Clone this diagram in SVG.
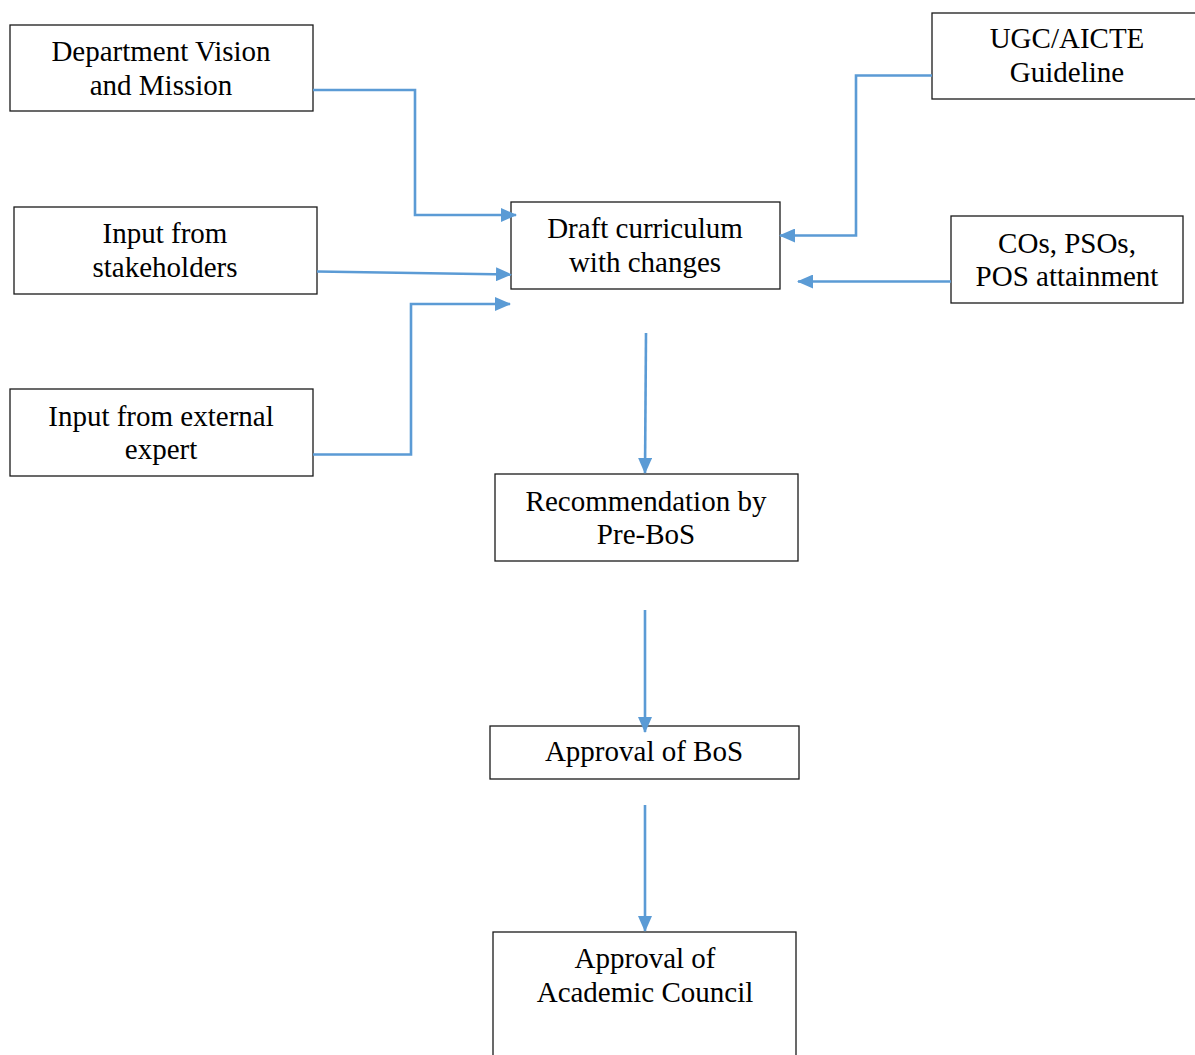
<svg xmlns="http://www.w3.org/2000/svg" width="1195" height="1055" viewBox="0 0 1195 1055">
<style>
.box{fill:#fff;stroke:#1a1a1a;stroke-width:1.3}
.t{font-family:"Liberation Serif","Times New Roman",serif;font-size:29px;fill:#000;text-anchor:middle}
.c{fill:none;stroke:#5B9BD5;stroke-width:2.6;marker-end:url(#ah)}
</style>
<defs>
<marker id="ah" markerUnits="userSpaceOnUse" markerWidth="16" markerHeight="14" refX="15" refY="7" orient="auto">
<path d="M0,0 L16,7 L0,14 z" fill="#5B9BD5"/>
</marker>
</defs>
<rect width="1195" height="1055" fill="#fff"/>
<g id="n-dept"><rect class="box" x="10" y="25" width="303" height="86"/><text class="t" x="161" y="61">Department Vision</text><text class="t" x="161" y="95">and Mission</text></g>
<g id="n-stake"><rect class="box" x="14" y="207" width="303" height="87"/><text class="t" x="165" y="243">Input from</text><text class="t" x="165" y="277">stakeholders</text></g>
<g id="n-ext"><rect class="box" x="10" y="389" width="303" height="87"/><text class="t" x="161" y="426">Input from external</text><text class="t" x="161" y="459">expert</text></g>
<g id="n-draft"><rect class="box" x="511" y="202" width="269" height="87"/><text class="t" x="645" y="238">Draft curriculum</text><text class="t" x="645" y="272">with changes</text></g>
<g id="n-ugc"><rect class="box" x="932" y="13" width="270" height="86"/><text class="t" x="1067" y="48">UGC/AICTE</text><text class="t" x="1067" y="82">Guideline</text></g>
<g id="n-cos"><rect class="box" x="951" y="216" width="232" height="87"/><text class="t" x="1067" y="253">COs, PSOs,</text><text class="t" x="1067" y="286">POS attainment</text></g>
<g id="n-rec"><rect class="box" x="495" y="474" width="303" height="87"/><text class="t" x="646" y="511">Recommendation by</text><text class="t" x="646" y="544">Pre-BoS</text></g>
<g id="n-bos"><rect class="box" x="490" y="726" width="309" height="53"/><text class="t" x="644" y="761">Approval of BoS</text></g>
<g id="n-ac"><rect class="box" x="493" y="932" width="303" height="130"/><text class="t" x="645" y="968">Approval of</text><text class="t" x="645" y="1002">Academic Council</text></g>
<g id="connectors">
<path class="c" d="M313,90 H415 V215 H516"/>
<path class="c" d="M317,271.5 L511,274.5"/>
<path class="c" d="M313,454.5 H411 V304 H510"/>
<path class="c" d="M932,75.5 H856 V235.5 H780"/>
<path class="c" d="M951,281.5 H798"/>
<path class="c" d="M646,333 L645,473"/>
<path class="c" d="M645,610 V732"/>
<path class="c" d="M645,805 V931"/>
</g>
</svg>
